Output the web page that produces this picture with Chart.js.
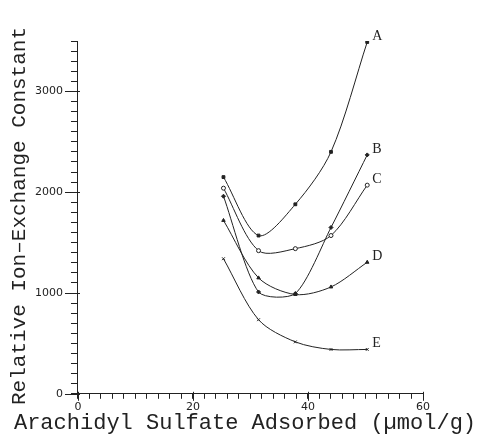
<!DOCTYPE html>
<html>
<head>
<meta charset="utf-8">
<script src="https://cdn.jsdelivr.net/npm/chart.js@4.4.1/dist/chart.umd.min.js"></script>
<style>
    html, body { margin: 0; padding: 0; background: #fff; }
    #wrap { width: 487px; height: 436px; }
</style>
</head>
<body>
<div id="wrap"><canvas id="chart" width="487" height="436"></canvas></div>
<script>
// arachidyl sulfate adsorbed, umol/g
const adsorbed = [25.3, 31.4, 37.8, 44.0, 50.3];

const seriesA = [2150, 1570, 1880, 2400, 3490];
const seriesB = [1960, 1010, 995, 1650, 2370];
const seriesC = [2040, 1420, 1440, 1570, 2070];
const seriesD = [1720, 1150, 985, 1060, 1305];
const seriesE = [1340, 735, 515, 440, 440];

const seriesNames = ['A', 'B', 'C', 'D', 'E'];
const xTickLabels = [0, 20, 40, 60];
const yTickLabels = [0, 1000, 2000, 3000];

const xTitle = 'Arachidyl Sulfate Adsorbed (µmol/g)';
const yTitle = 'Relative Ion–Exchange Constant';

const ink = '#222';

function toPoints(values) {
    return values.map((y, i) => ({ x: adsorbed[i], y }));
}

const styles = ['rect', 'rectRot', 'circle', 'triangle', 'crossRot'];

const datasets = [seriesA, seriesB, seriesC, seriesD, seriesE].map((values, index) => ({
    label: seriesNames[index],
    data: toPoints(values),
    borderColor: ink,
    backgroundColor: index === 2 ? '#fff' : ink,
    borderWidth: 1,
    pointStyle: styles[index],
    pointRadius: 2,
    pointBorderWidth: 1,
    tension: index === 1 ? 0.25 : 0.3,
    fill: false,
}));

// series letters, axis titles (Chart.js squeezes titles to the axis length)
// and longer ticks at the labelled values
const annotate = {
    id: 'annotate',
    afterDatasetsDraw(chart) {
        const { ctx, scales: { x, y } } = chart;
        ctx.save();
        ctx.fillStyle = ink;
        ctx.font = '14px "Liberation Serif"';
        ctx.textBaseline = 'bottom';
        chart.data.datasets.forEach((ds) => {
            const last = ds.data[ds.data.length - 1];
            ctx.fillText(ds.label, x.getPixelForValue(last.x) + 5, y.getPixelForValue(last.y) + 1);
        });

        ctx.font = '22px "Liberation Mono"';
        ctx.textAlign = 'center';
        ctx.textBaseline = 'alphabetic';
        ctx.fillText(xTitle, 245, 429);

        ctx.save();
        ctx.translate(25, 216);
        ctx.rotate(-Math.PI / 2);
        ctx.font = '21px "Liberation Mono"';
        ctx.fillText(yTitle, 0, 0);
        ctx.restore();

        ctx.strokeStyle = ink;
        ctx.lineWidth = 1;
        ctx.beginPath();
        yTickLabels.forEach((v) => {
            const py = Math.round(y.getPixelForValue(v)) + 0.5;
            ctx.moveTo(x.left - 13, py);
            ctx.lineTo(x.left + 2, py);
        });
        xTickLabels.forEach((v) => {
            const px = Math.round(x.getPixelForValue(v)) + 0.5;
            ctx.moveTo(px, y.bottom - 2);
            ctx.lineTo(px, y.bottom + 7);
        });
        ctx.stroke();
        ctx.restore();
    },
};

new Chart(document.getElementById('chart').getContext('2d'), {
    type: 'line',
    data: { datasets },
    options: {
        responsive: false,
        animation: false,
        layout: {
            padding: { left: 27, right: 64, top: 41, bottom: 20 },
        },
        plugins: {
            legend: { display: false },
            tooltip: { enabled: false },
        },
        scales: {
            x: {
                type: 'linear',
                min: 0,
                max: 60,
                grid: {
                    drawOnChartArea: false,
                    drawTicks: true,
                    tickLength: 5,
                    color: ink,
                },
                border: { display: true, color: ink, width: 1 },
                ticks: {
                    stepSize: 2,
                    autoSkip: false,
                    maxRotation: 0,
                    padding: 2,
                    color: ink,
                    font: { family: 'DejaVu Sans', size: 11 },
                    callback: (value) => (xTickLabels.includes(value) ? String(value) : ''),
                },
            },
            y: {
                min: 0,
                max: 3500,
                grid: {
                    drawOnChartArea: false,
                    drawTicks: true,
                    tickLength: 7,
                    color: ink,
                },
                border: { display: true, color: ink, width: 1 },
                ticks: {
                    stepSize: 100,
                    autoSkip: false,
                    padding: 8,
                    color: ink,
                    font: { family: 'DejaVu Sans', size: 11 },
                    callback: (value) => (yTickLabels.includes(value) ? String(value) : ''),
                },
            },
        },
    },
    plugins: [annotate],
});
</script>
</body>
</html>
